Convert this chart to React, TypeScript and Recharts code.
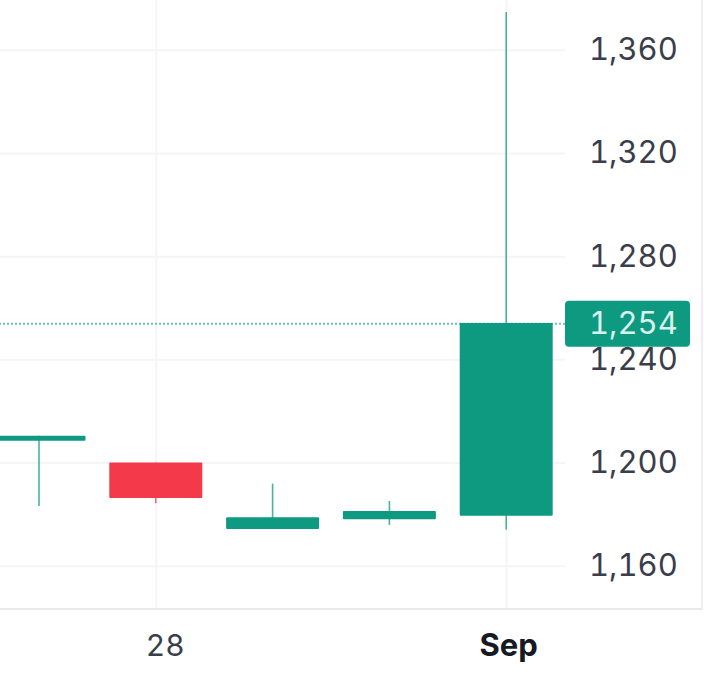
import React from 'react';
import { Bar, CartesianGrid, Cell, ComposedChart, ReferenceLine, XAxis, YAxis } from 'recharts';

const days = ['27', '28', '29', '30', 'Sep'];
const opens = [1208.6, 1200.2, 1174.4, 1178.2, 1179.6];
const closes = [1210.6, 1186.4, 1179, 1181.4, 1254.3];
const highs = [1210.6, 1200.2, 1192, 1185.3, 1374.8];
const lows = [1183.3, 1184.4, 1174.4, 1176, 1174.2];
// 28 is the only red one
const bearish = [false, true, false, false, false];

const priceTicks = [1160, 1200, 1240, 1280, 1320, 1360];
const dayTicks = ['28', 'Sep'];
const lastPrice = 1254;

const UP = '#0e9a80';
const DOWN = '#f43a4a';
const GRID = '#f5f5f7';
const NUMS = { fontFeatureSettings: '"tnum"', fontVariantNumeric: 'tabular-nums' };

const data = days.map((day, i) => ({
  day,
  open: opens[i],
  close: closes[i],
  high: highs[i],
  low: lows[i],
  range: [lows[i], highs[i]],
}));

const Candle = (props: any) => {
  const { x, y, width, height, payload, fill } = props;
  const top = Math.min(y, y + height);
  const pxPerUnit = Math.abs(height) / (payload.high - payload.low);
  const bodyTop = top + (payload.high - Math.max(payload.open, payload.close)) * pxPerUnit;
  const bodyH = Math.abs(payload.close - payload.open) * pxPerUnit;
  return (
    <g>
      <line
        x1={x + width / 2 - 0.5}
        x2={x + width / 2 - 0.5}
        y1={top}
        y2={top + Math.abs(height)}
        stroke={fill}
        strokeOpacity={0.75}
        strokeWidth={1.6}
      />
      <rect x={x - 0.5} y={bodyTop} width={width} height={bodyH} fill={fill} rx={1} />
    </g>
  );
};

const DayTick = (props: any) => {
  const { x, y, payload } = props;
  const isMonth = payload.value === 'Sep';
  return (
    <text
      x={x + (isMonth ? 2 : 9)}
      y={y + 39}
      textAnchor="middle"
      fontSize={isMonth ? 31 : 30}
      fontWeight={isMonth ? 700 : 400}
      fill={isMonth ? '#161a25' : '#3a3e4a'}
      style={NUMS}
    >
      {payload.value}
    </text>
  );
};

const PriceTick = (props: any) => {
  const { x, y, payload } = props;
  return (
    <text x={x} y={y + 10} fontSize={31} fill="#3a3e4a" style={NUMS}>
      {payload.value.toLocaleString('en-US')}
    </text>
  );
};

const PriceTag = (props: any) => {
  const y = props.viewBox.y;
  return (
    <g>
      <rect x={565} y={y - 23} width={125} height={46} rx={4} fill={UP} />
      <text x={589} y={y + 10} fontSize={31} fill="#d9f2ec" style={NUMS}>
        {lastPrice.toLocaleString('en-US')}
      </text>
    </g>
  );
};

export default function App() {
  return (
    <div
      style={{
        position: 'absolute',
        left: 0,
        top: 0,
        width: 704,
        height: 681,
        background: '#fff',
        fontFamily: 'Inter, sans-serif',
        overflow: 'hidden',
      }}
    >
      <ComposedChart
        width={704}
        height={681}
        data={data}
        margin={{ top: 0, right: 0, bottom: 0, left: -19 }}
      >
        <CartesianGrid stroke={GRID} strokeWidth={2} syncWithTicks />
        <XAxis
          dataKey="day"
          ticks={dayTicks}
          interval={0}
          height={72}
          axisLine={false}
          tickLine={false}
          tick={<DayTick />}
        />
        <YAxis
          orientation="right"
          width={139}
          domain={[1143.4, 1379.5]}
          ticks={priceTicks}
          axisLine={false}
          tickLine={false}
          tickMargin={18}
          tick={<PriceTick />}
        />
        <ReferenceLine
          y={lastPrice}
          stroke={UP}
          strokeOpacity={0.6}
          strokeWidth={2}
          strokeDasharray="2 2"
          label={<PriceTag />}
        />
        <Bar dataKey="range" barSize={93} shape={<Candle />} isAnimationActive={false}>
          {data.map((d, i) => (
            <Cell key={d.day} fill={bearish[i] ? DOWN : UP} />
          ))}
        </Bar>
      </ComposedChart>
      <div style={{ position: 'absolute', left: 0, top: 608, width: 701, height: 2, background: '#e8e8ee' }} />
      <div style={{ position: 'absolute', left: 701, top: 0, width: 2, height: 610, background: '#eeeef2' }} />
    </div>
  );
}
